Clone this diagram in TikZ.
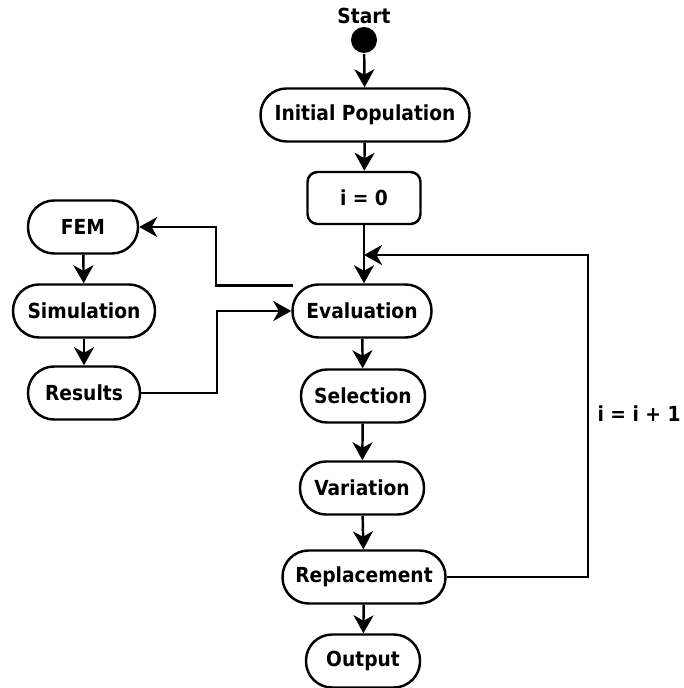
\documentclass[tikz,border=0pt]{standalone}
\usepackage{fontspec}
\setmainfont{DejaVu Sans Condensed}
\usetikzlibrary{arrows.meta}
\begin{document}
\begin{tikzpicture}[x=0.02cm,y=-0.02cm,line width=1.4pt,
        every node/.style={font=\fontsize{11.8}{14}\selectfont\bfseries},
        pill/.style={draw,rectangle,rounded corners=0.52cm,minimum height=1.06cm,inner sep=2pt},
        flow/.style={-{Stealth[length=3.6mm,width=4mm,inset=1.1mm]}}]
    \useasboundingbox (0,0) rectangle (683,688);
    % main loop
    \node (startlbl) at (364,16) {Start};
    \node[circle,fill=black,minimum size=0.52cm,inner sep=0pt] (start) at (364,40) {};
    \node[pill,minimum width=4.18cm] (init) at (365,115) {Initial Population};
    \node[draw,rounded corners=0.2cm,minimum width=2.26cm,minimum height=1.04cm] (izero) at (364,198) {i = 0};
    \node[pill,minimum width=2.78cm] (eval) at (362,311) {Evaluation};
    \node[pill,minimum width=2.48cm] (sel) at (363,396) {Selection};
    \node[pill,minimum width=2.48cm] (var) at (362,488) {Variation};
    \node[pill,minimum width=3.26cm] (repl) at (364,577) {Replacement};
    \node[pill,minimum width=2.28cm] (out) at (363,661) {Output};
    % simulation branch
    \node[pill,minimum width=2.2cm] (fem) at (83,227) {FEM};
    \node[pill,minimum width=2.84cm] (sim) at (84,311) {Simulation};
    \node[pill,minimum width=2.24cm] (res) at (84,393) {Results};
    \node (incr) at (639,414) {i = i + 1};
    \coordinate (femturn) at (216,255);
    \coordinate (resturn) at (217,350);
    \coordinate (loopturn) at (588,400);
    \coordinate (loopend) at (364,255);
    \draw[flow] (start) -- (init);
    \draw[flow] (init) -- (izero);
    \draw[flow] (izero) -- (izero |- eval.north);
    \draw[flow] (eval) -- (sel);
    \draw[flow] (sel) -- (var);
    \draw[flow] (var) -- (repl);
    \draw[flow] (repl) -- (out);
    \draw[flow] (fem) -- (sim);
    \draw[flow] (sim) -- (res);
    \draw[flow] ([xshift=0.04cm,yshift=-0.04cm]eval.north west) -| (femturn) |- (fem.east);
    \draw[flow] (res.east) -| (resturn) |- (eval.west);
    \draw[flow] (repl.east) -| (loopturn) |- (loopend);
\end{tikzpicture}
\end{document}
